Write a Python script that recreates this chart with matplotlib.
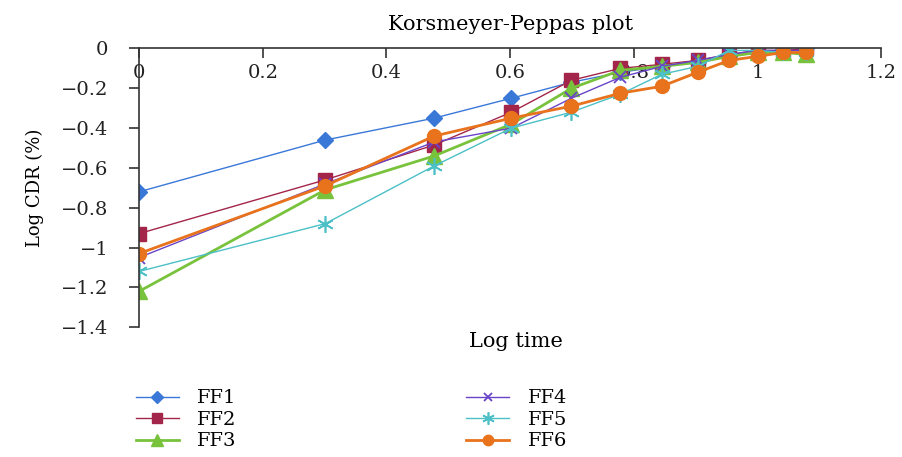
import matplotlib
matplotlib.use('Agg')
import matplotlib.pyplot as plt
from matplotlib.ticker import FuncFormatter

# log time (log of hours 1..12)
log_time = [0, 0.301, 0.477, 0.602, 0.699, 0.778, 0.845, 0.903, 0.954, 1.0, 1.041, 1.079]

FF1 = [-0.72, -0.46, -0.35, -0.25, -0.17, -0.12, -0.09, -0.07, -0.04, -0.02, -0.01, 0.0]
FF2 = [-0.93, -0.66, -0.485, -0.32, -0.16, -0.10, -0.08, -0.06, -0.03, -0.01, -0.01, 0.0]
FF3 = [-1.22, -0.71, -0.54, -0.38, -0.20, -0.11, -0.09, -0.07, -0.04, -0.02, -0.02, -0.03]
FF4 = [-1.05, -0.68, -0.47, -0.40, -0.25, -0.145, -0.09, -0.06, -0.03, -0.01, -0.01, -0.01]
FF5 = [-1.12, -0.88, -0.59, -0.40, -0.32, -0.23, -0.13, -0.09, -0.01, -0.01, -0.02, -0.02]
FF6 = [-1.03, -0.69, -0.44, -0.35, -0.29, -0.225, -0.19, -0.12, -0.06, -0.04, -0.02, -0.02]

plt.rcParams['font.family'] = ['DejaVu Serif']

fig = plt.figure(figsize=(9.03, 4.57), dpi=100)
ax = fig.add_axes([0.154, 0.284, 0.822, 0.610])

ax.plot(log_time, FF1, color='#3a78d8', marker='D', markersize=8, lw=1.0, label='FF1')
ax.plot(log_time, FF2, color='#a3254a', marker='s', markersize=10, lw=1.0, label='FF2')
ax.plot(log_time, FF3, color='#78c23c', marker='^', markersize=11, lw=2.0, label='FF3')
ax.plot(log_time, FF4, color='#6a44c8', marker='x', markersize=8, mew=1.3, lw=1.0, label='FF4')
ax.plot(log_time, FF5, color='#4cc0c6', marker=(6, 2, 0), markersize=12, mew=1.2, lw=1.0, label='FF5')
ax.plot(log_time, FF6, color='#e8731c', marker='o', markersize=10, lw=2.0, label='FF6')

ax.set_xlim(0, 1.2)
ax.set_ylim(-1.4, 0)
ax.set_xticks([0, 0.2, 0.4, 0.6, 0.8, 1.0, 1.2])
ax.set_yticks([0, -0.2, -0.4, -0.6, -0.8, -1.0, -1.2, -1.4])
fmt = FuncFormatter(lambda v, p: ('%g' % round(v, 2)).replace('-', '\u2212'))
ax.xaxis.set_major_formatter(fmt)
ax.yaxis.set_major_formatter(fmt)

ax.spines['top'].set_visible(False)
ax.spines['right'].set_visible(False)
ax.spines['bottom'].set_position(('data', 0))
for s in ['left', 'bottom']:
    ax.spines[s].set_color('#333333')
    ax.spines[s].set_linewidth(1.2)
ax.tick_params(direction='out', length=7, width=1.2, colors='#333333', labelcolor='#222222', labelsize=14)
ax.tick_params(axis='x', pad=4)
ax.tick_params(axis='y', pad=15)
for lbl in ax.get_xticklabels():
    lbl.set_zorder(0)

ax.set_title('Korsmeyer-Peppas plot', fontsize=15, pad=13)
ax.set_ylabel('Log CDR (%)', fontsize=13, labelpad=12)
fig.text(0.571, 0.252, 'Log time', ha='center', va='center', fontsize=15)

# ncol=2 fills column-wise: FF1-3 left, FF4-6 right
fig.legend(loc='upper left', bbox_to_anchor=(0.142, 0.165), ncol=2, frameon=False,
           fontsize=14, handlelength=2.2, columnspacing=11.8, labelspacing=0.18,
           borderaxespad=0, handletextpad=0.95, markerscale=0.75)

fig.savefig('out.png', dpi=100)
